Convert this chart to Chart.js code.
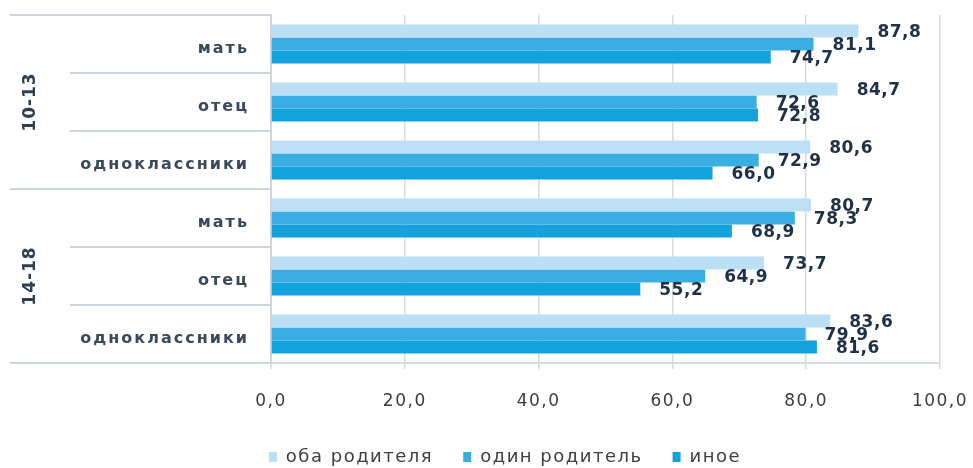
<!DOCTYPE html>
<html>
<head>
<meta charset="utf-8">
<script src="https://cdn.jsdelivr.net/npm/chart.js@4/dist/chart.umd.min.js"></script>
<style>
html,body{margin:0;padding:0;background:#fff;overflow:hidden}
#wrap{width:973px;height:468px;position:relative}
</style>
</head>
<body>
<div id="wrap"><canvas id="c" width="973" height="468"></canvas></div>
<script>
// ---- data ----
const groups = ['10-13', '14-18'];
const categories = ['мать', 'отец', 'одноклассники', 'мать', 'отец', 'одноклассники'];
const seriesNames = ['оба родителя', 'один родитель', 'иное'];
const bothParents = [87.8, 84.7, 80.6, 80.7, 73.7, 83.6];
const oneParent   = [81.1, 72.6, 72.9, 78.3, 64.9, 79.9];
const otherFamily = [74.7, 72.8, 66.0, 68.9, 55.2, 81.6];
const xTicks = [0, 20, 40, 60, 80, 100];

// ---- style ----
const FONT = "'DejaVu Sans', sans-serif";
const colors = ['#bcdff5', '#3aaee2', '#12a2dc'];
const fmt = v => Number(v).toFixed(1).replace('.', ',');

const decor = {
  id: 'decor',
  beforeUpdate(chart) { chart.ctx.letterSpacing = '1.5px'; },
  afterLayout(chart) {
    const lg = chart.legend;
    if (lg) { lg.top += 8; lg.bottom += 8; lg.left += 35; lg.right += 35; }
  },
  beforeDraw(chart) { chart.ctx.letterSpacing = '1.5px'; },
  afterDatasetsDraw(chart) {
    const ctx = chart.ctx;
    ctx.save();
    ctx.letterSpacing = '0.5px';
    ctx.font = "bold 17px " + FONT;
    ctx.fillStyle = '#1f3147';
    ctx.textAlign = 'left';
    ctx.textBaseline = 'middle';
    chart.data.datasets.forEach((ds, di) => {
      chart.getDatasetMeta(di).data.forEach((bar, i) => {
        ctx.fillText(fmt(ds.data[i]), bar.x + 19, bar.y + 2);
      });
    });
    ctx.restore();
  },
  afterDraw(chart) {
    const ctx = chart.ctx;
    const ys = chart.scales.y;
    const area = chart.chartArea;
    const n = categories.length;
    const per = n / groups.length;
    ctx.save();
    ctx.strokeStyle = '#ccd4dd';
    ctx.lineWidth = 2;
    for (let i = 0; i <= n; i++) {
      const y = i === 0 ? ys.top : (i === n ? ys.bottom :
        (ys.getPixelForValue(i - 1) + ys.getPixelForValue(i)) / 2);
      const x0 = (i % per === 0) ? 10 : 70;
      ctx.beginPath();
      ctx.moveTo(x0, y);
      ctx.lineTo(area.left, y);
      ctx.stroke();
    }
    ctx.letterSpacing = '2px';
    ctx.font = "bold 16px " + FONT;
    ctx.fillStyle = '#3a4a5c';
    ctx.textAlign = 'right';
    ctx.textBaseline = 'middle';
    categories.forEach((c, i) => ctx.fillText(c, 249, ys.getPixelForValue(i) + 5));
    ctx.font = "bold 17px " + FONT;
    ctx.fillStyle = '#2f3e50';
    ctx.textAlign = 'center';
    ctx.letterSpacing = '1px';
    groups.forEach((g, k) => {
      const yc = (ys.getPixelForValue(k * per) + ys.getPixelForValue(k * per + per - 1)) / 2;
      ctx.save();
      ctx.translate(31, yc);
      ctx.rotate(-Math.PI / 2);
      ctx.fillText(g, 0, 0);
      ctx.restore();
    });
    ctx.restore();
  }
};

const series = [bothParents, oneParent, otherFamily];

new Chart(document.getElementById('c'), {
  type: 'bar',
  data: {
    labels: categories,
    datasets: series.map((d, i) => ({
      label: seriesNames[i],
      data: d,
      backgroundColor: colors[i],
      borderWidth: 0,
      categoryPercentage: 0.67,
      barPercentage: 1.0
    }))
  },
  options: {
    indexAxis: 'y',
    responsive: false,
    animation: false,
    layout: { padding: { top: 15, right: 33, bottom: 0, left: 0 } },
    plugins: {
      tooltip: { enabled: false },
      legend: {
        position: 'bottom',
        labels: {
          boxWidth: 8,
          boxHeight: 10,
          padding: 30,
          color: '#404040',
          font: { family: FONT, size: 18 }
        }
      }
    },
    scales: {
      x: {
        min: xTicks[0],
        max: xTicks[xTicks.length - 1],
        afterBuildTicks(scale) { scale.ticks = xTicks.map(v => ({ value: v })); },
        afterFit(scale) {
          scale.height = 47;
          scale.paddingLeft = 0;
          scale.paddingRight = 0;
        },
        grid: { color: '#dadada', lineWidth: 1.5, tickLength: 6, drawTicks: true },
        border: { display: true, color: '#d3dae2', width: 2 },
        ticks: {
          padding: 22,
          color: '#3c3c3c',
          font: { family: FONT, size: 17 },
          callback: v => fmt(v),
          maxRotation: 0
        }
      },
      y: {
        afterFit(scale) { scale.width = 271; },
        grid: { display: false },
        border: { display: true, color: '#ccd4dd', width: 2 },
        ticks: { display: false }
      }
    }
  },
  plugins: [decor]
});
</script>
</body>
</html>
